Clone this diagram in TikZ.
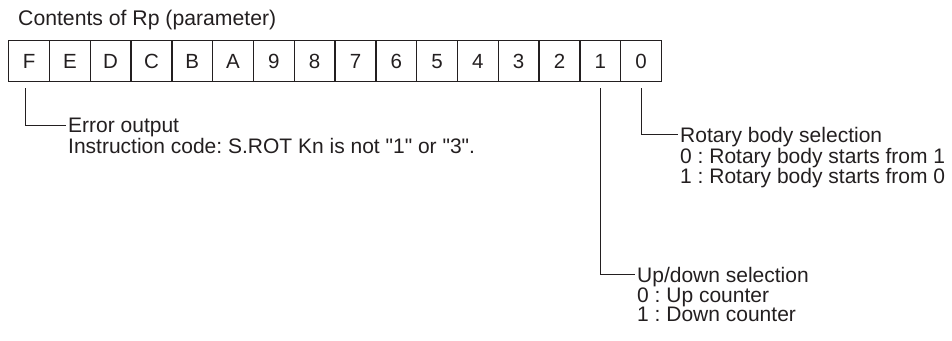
\documentclass[tikz,border=0pt]{standalone}
\usepackage{fontspec}
\setmainfont{Liberation Sans}
\usetikzlibrary{positioning}
\definecolor{ink}{RGB}{35,31,32}
\frenchspacing

\begin{document}
\begin{tikzpicture}[x=1pt,y=-1pt,
  bitcell/.style={draw=ink,line width=1.3pt,minimum width=40.8pt,minimum height=41pt,
    inner sep=0pt,anchor=north west,text=ink,font=\fontsize{20.5}{24}\selectfont},
  note/.style={align=left,anchor=north west,inner xsep=2.5pt,inner ysep=0pt,text=ink,
    font=\fontsize{21}{19.5}\selectfont},
  leader/.style={draw=ink,line width=1.1pt}]
\useasboundingbox (0,0) rectangle (952,340);
\node[note,anchor=base west,font=\fontsize{21.2}{24}\selectfont] (title) at (15.5,25) {Contents of Rp (parameter)};
% bit cells, F down to 0
\foreach \b [count=\i from 0] in {F,E,D,C,B,A,9,8,7,6,5,4,3,2,1,0}
  \node[bitcell] (c\b) at ({8+\i*40.8},40) {\b};
\node[note] (err) at (65.5,118.2) {Error output\\Instruction code: S.ROT Kn is not \textquotedbl1\textquotedbl{} or \textquotedbl3\textquotedbl.};
\node[note] (rot) at (677.5,127.2) {Rotary body selection\\0 : Rotary body starts from 1\\1 : Rotary body starts from 0};
\node[note] (updn) at (634.5,267.2) {Up/down selection\\0 : Up counter\\1 : Down counter};
\draw[leader] ([xshift=-3.5pt,yshift=-6pt]cF.south) |- ([yshift=-7.5pt]err.north west);
\draw[leader] ([yshift=-6pt]c0.south) |- ([yshift=-7.5pt]rot.north west);
\draw[leader] ([yshift=-6pt]c1.south) |- ([yshift=-7.5pt]updn.north west);
\end{tikzpicture}
\end{document}
